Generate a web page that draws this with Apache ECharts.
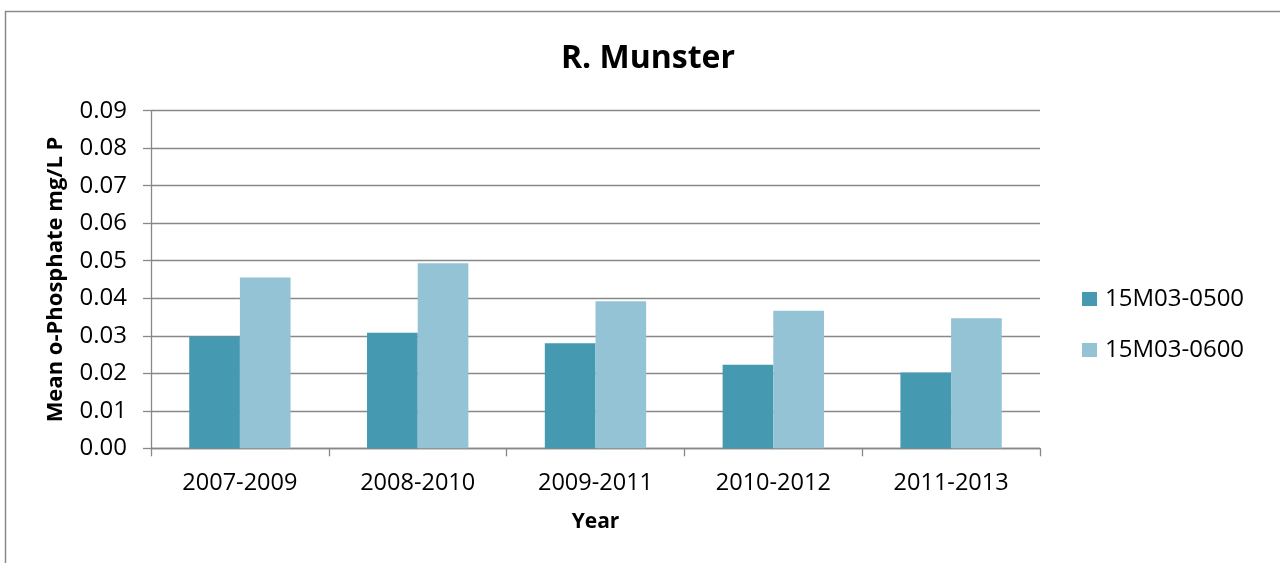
<!DOCTYPE html>
<html>
<head>
<meta charset="utf-8">
<script src="https://cdn.jsdelivr.net/npm/echarts@6/dist/echarts.min.js"></script>
<style>html,body{margin:0;padding:0;background:#fff}#c{width:1280px;height:563px}</style>
</head>
<body>
<div id="c"></div>
<script>
const categories = ['2007-2009', '2008-2010', '2009-2011', '2010-2012', '2011-2013'];
const series0500 = [0.0298, 0.0308, 0.0280, 0.0223, 0.0202];
const series0600 = [0.0455, 0.0493, 0.0392, 0.0367, 0.0347];
const seriesNames = ['15M03-0500', '15M03-0600'];
const chartTitle = 'R. Munster';
const yAxisName = 'Mean o-Phosphate mg/L P';
const xAxisName = 'Year';

const FONT = '"Open Sans", "Liberation Sans", sans-serif';
const chart = echarts.init(document.getElementById('c'), null, {renderer: 'canvas'});
chart.setOption({
  animation: false,
  backgroundColor: '#fff',
  textStyle: {fontFamily: FONT},
  title: {
    text: chartTitle,
    left: 643, top: 38, textAlign: 'center',
    textStyle: {fontFamily: FONT, fontSize: 32, fontWeight: 'bold', color: '#000'}
  },
  graphic: [{
    type: 'polyline', silent: true,
    shape: {points: [[5.5, 600], [5.5, 11.5], [1300, 11.5]]},
    style: {stroke: '#8a8a8a', lineWidth: 1.5, fill: null}
  }],
  legend: {
    orient: 'vertical',
    left: 1082, top: 287, padding: 0,
    itemWidth: 15, itemHeight: 14, itemGap: 27,
    icon: 'rect',
    textStyle: {fontFamily: FONT, fontSize: 24, color: '#000', padding: [0, 0, 0, 3]},
    data: seriesNames
  },
  grid: {left: 151, right: 240, top: 110.7, bottom: 114.7, containLabel: false},
  xAxis: {
    type: 'category',
    data: categories,
    name: xAxisName, nameLocation: 'middle', nameGap: 63,
    nameTextStyle: {fontFamily: FONT, fontSize: 21, fontWeight: 'bold', color: '#000'},
    axisLine: {lineStyle: {color: '#888', width: 1.3}},
    axisTick: {show: true, length: 8, lineStyle: {color: '#888', width: 1.3}},
    axisLabel: {fontFamily: FONT, fontSize: 23.5, color: '#000', margin: 23}
  },
  yAxis: {
    type: 'value',
    min: 0, max: 0.09, interval: 0.01,
    name: yAxisName, nameLocation: 'middle', nameGap: 84, nameRotate: 90,
    nameTextStyle: {fontFamily: FONT, fontSize: 22, fontWeight: 'bold', color: '#000'},
    axisLine: {show: true, lineStyle: {color: '#888', width: 1.3}},
    axisTick: {show: true, length: 8, lineStyle: {color: '#888', width: 1.3}},
    splitLine: {lineStyle: {color: '#888', width: 1.3}},
    axisLabel: {fontFamily: FONT, fontSize: 24, color: '#000', margin: 24,
      formatter: v => v.toFixed(2)}
  },
  series: [
    {name: seriesNames[0], type: 'bar', data: series0500, barGap: '0%', barCategoryGap: '43%',
     itemStyle: {color: '#4599b0'}},
    {name: seriesNames[1], type: 'bar', data: series0600, barGap: '0%', barCategoryGap: '43%',
     itemStyle: {color: '#93c3d5'}}
  ]
});
</script>
</body>
</html>
